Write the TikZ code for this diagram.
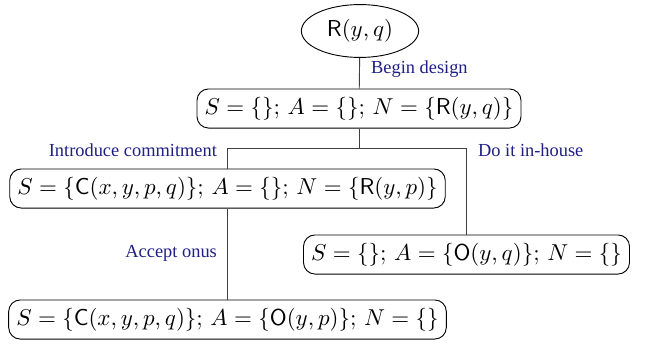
\documentclass[tikz,border=0pt]{standalone}
\usepackage[no-math]{fontspec}
\newfontfamily\labelfont{Liberation Serif}
\usetikzlibrary{shapes.geometric}

\definecolor{edgeblue}{rgb}{0.12,0.12,0.52}

\begin{document}
\begin{tikzpicture}[x=0.435pt, y=-0.435pt,
  state/.style={draw, rounded corners=5pt, inner sep=3.3pt, minimum height=17pt},
  goal/.style={draw, ellipse, minimum width=51pt, minimum height=23pt, inner sep=1pt},
  lbl/.style={font=\labelfont\footnotesize, text=edgeblue},
  link/.style={draw=black!75}]

\useasboundingbox (0,0) rectangle (646,344);

% states of the design
\node[goal]  (root) at (360,31)    {$\mathsf{R}(y,q)$};
\node[state] (s0)   at (359,108.5) {$S = \{\}$; $A = \{\}$; $N = \{\mathsf{R}(y,q)\}$};
\node[state] (s1)   at (227.5,188.5) {$S = \{\mathsf{C}(x,y,p,q)\}$; $A = \{\}$; $N = \{\mathsf{R}(y,p)\}$};
\node[state] (s2)   at (466.5,254.5) {$S = \{\}$; $A = \{\mathsf{O}(y,q)\}$; $N = \{\}$};
\node[state] (s3)   at (227.5,319.5) {$S = \{\mathsf{C}(x,y,p,q)\}$; $A = \{\mathsf{O}(y,p)\}$; $N = \{\}$};

\coordinate (fork) at (359,148);

% moves
\draw[link] (root) -- (s0);
\draw[link] (s0) -- (fork) -| (s1);
\draw[link] (fork) -| (s2);
\draw[link] (s1) -- (s3);

\node[lbl, anchor=west] (lbegin)  at (363,69)  {Begin design};
\node[lbl, anchor=east] (lintro)  at (225,150) {Introduce commitment};
\node[lbl, anchor=west] (lhouse)  at (470,150) {Do it in-house};
\node[lbl, anchor=east] (laccept) at (225,253) {Accept onus};

\end{tikzpicture}
\end{document}
